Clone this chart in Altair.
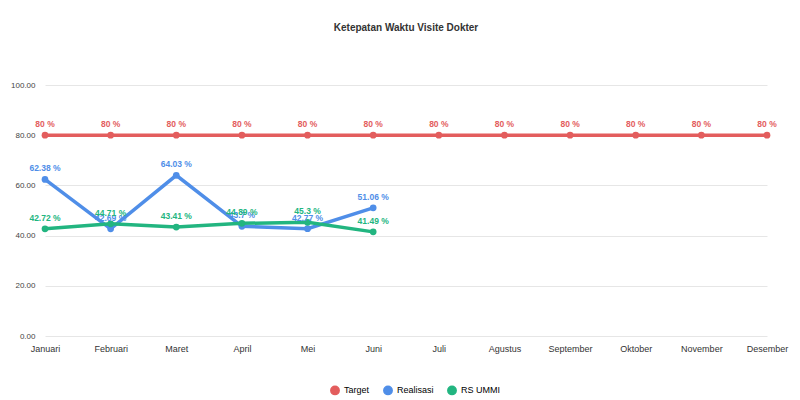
import pandas as pd
import altair as alt

months = ["Januari", "Februari", "Maret", "April", "Mei", "Juni", "Juli",
          "Agustus", "September", "Oktober", "November", "Desember"]
target = [80] * 12
realisasi = [62.38, 42.69, 64.03, 43.7, 42.77, 51.06]
rs_ummi = [42.72, 44.71, 43.41, 44.89, 45.3, 41.49]

series = ["Target", "Realisasi", "RS UMMI"]
colors = ["#e35d5d", "#4f8ee8", "#22b580"]

rows = []
for name, vals in zip(series, [target, realisasi, rs_ummi]):
    for m, v in zip(months, vals):
        rows.append({"Bulan": m, "Seri": name, "Nilai": v,
                     "Label": f"{v:g} %"})
df = pd.DataFrame(rows)

x = alt.X("Bulan:N", sort=months, title=None,
          scale=alt.Scale(type="point", padding=0),
          axis=alt.Axis(labelAngle=0, domain=False, ticks=False, labelPadding=8,
                        labelFontSize=9, labelColor="#333", grid=False))
y = alt.Y("Nilai:Q", title=None, scale=alt.Scale(domain=[0, 100]),
          axis=alt.Axis(values=[0, 20, 40, 60, 80, 100], format=".2f",
                        domain=False, ticks=False, labelPadding=10,
                        labelFontSize=8, labelColor="#444", gridColor="#e6e6e6"))
color = alt.Color("Seri:N", sort=series,
                  scale=alt.Scale(domain=series, range=colors),
                  legend=alt.Legend(title=None, orient="none", direction="horizontal",
                                    legendX=285, legendY=300,
                                    symbolType="circle", symbolSize=70, labelFontSize=9,
                                    symbolOpacity=1))

base = alt.Chart(df).encode(x=x, y=y, color=color)
lines = base.mark_line(strokeWidth=3.5)
points = base.mark_point(filled=True, size=45, opacity=1)
labels = base.mark_text(dy=-11, fontSize=8.5, fontWeight="bold").encode(text="Label:N")

chart = (lines + points + labels).properties(
    width=722, height=251,
    autosize=alt.AutoSizeParams(type="none"),
    padding={"left": 37, "top": 77, "right": 25, "bottom": 60},
    title=alt.TitleParams("Ketepatan Waktu Visite Dokter", fontSize=10,
                          fontWeight="bold", color="#333", offset=48),
).configure(font="Arial").configure_view(stroke=None)

chart.save("out.html", embed_options={"renderer": "svg", "actions": False})
